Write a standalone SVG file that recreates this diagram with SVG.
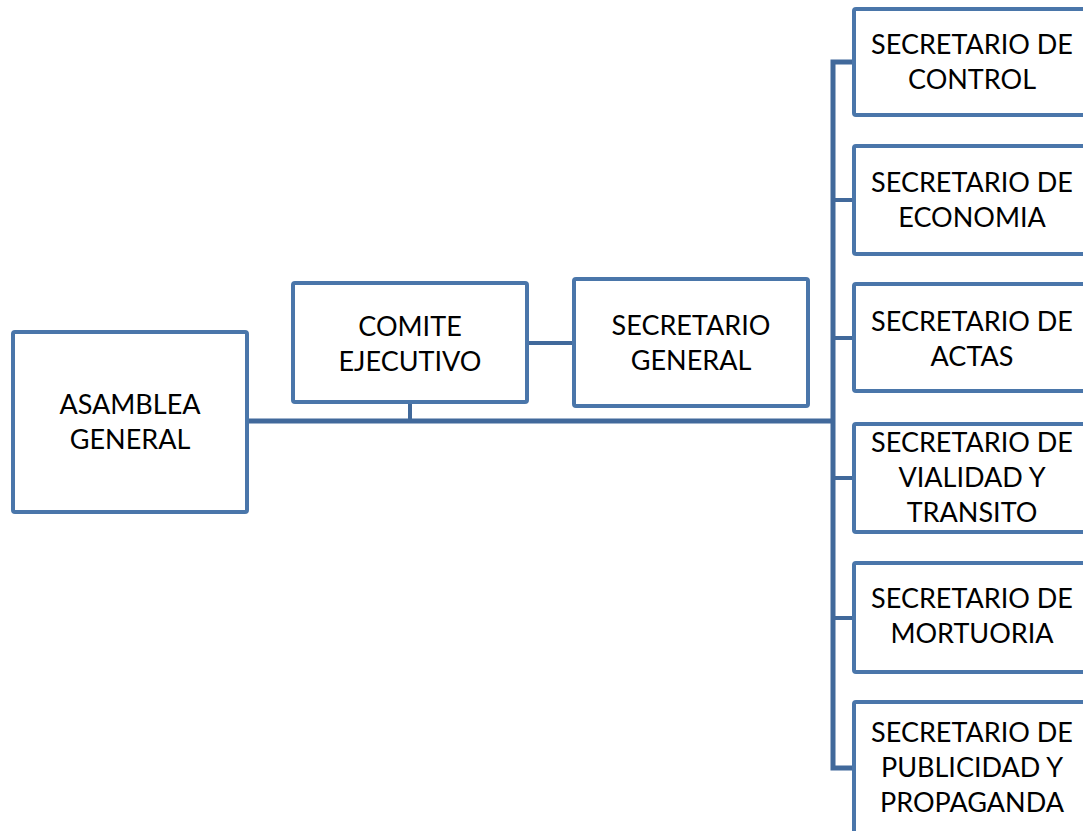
<svg xmlns="http://www.w3.org/2000/svg" width="1083" height="831" viewBox="0 0 1083 831">
<style>
.box{fill:#ffffff;stroke:#4a76aa;stroke-width:4;}
.lbl{font-family:Lato,"Liberation Sans",sans-serif;font-size:27px;fill:#000000;text-anchor:middle;}
.con{stroke:#41699b;fill:none;stroke-linecap:butt;}
</style>
<rect width="1083" height="831" fill="#ffffff"/>
<g id="connectors">
<line class="con" x1="247" y1="421" x2="833" y2="421" stroke-width="5"/>
<line class="con" x1="410" y1="403" x2="410" y2="421" stroke-width="4"/>
<line class="con" x1="526" y1="343" x2="574" y2="343" stroke-width="4"/>
<path class="con" d="M854 62 H833 V768 H854" stroke-width="5" stroke-linejoin="miter"/>
<line class="con" x1="833" y1="200" x2="854" y2="200" stroke-width="4"/>
<line class="con" x1="833" y1="338" x2="854" y2="338" stroke-width="4"/>
<line class="con" x1="833" y1="478" x2="854" y2="478" stroke-width="4"/>
<line class="con" x1="833" y1="618" x2="854" y2="618" stroke-width="4"/>
</g>
<g id="asamblea">
<rect class="box" x="13" y="332" width="234" height="180" rx="2"/>
<text class="lbl" x="130" y="414">ASAMBLEA</text>
<text class="lbl" x="130" y="449">GENERAL</text>
</g>
<g id="comite">
<rect class="box" x="293" y="283" width="234" height="119" rx="2"/>
<text class="lbl" x="410" y="336">COMITE</text>
<text class="lbl" x="410" y="371">EJECUTIVO</text>
</g>
<g id="secretario-general">
<rect class="box" x="574" y="279" width="234" height="127" rx="2"/>
<text class="lbl" x="691" y="335">SECRETARIO</text>
<text class="lbl" x="691" y="370">GENERAL</text>
</g>
<g id="control">
<rect class="box" x="854" y="9" width="240" height="106" rx="2"/>
<text class="lbl" x="972" y="54">SECRETARIO DE</text>
<text class="lbl" x="972" y="89">CONTROL</text>
</g>
<g id="economia">
<rect class="box" x="854" y="146" width="240" height="108" rx="2"/>
<text class="lbl" x="972" y="192">SECRETARIO DE</text>
<text class="lbl" x="972" y="227">ECONOMIA</text>
</g>
<g id="actas">
<rect class="box" x="854" y="284" width="240" height="107" rx="2"/>
<text class="lbl" x="972" y="331">SECRETARIO DE</text>
<text class="lbl" x="972" y="366">ACTAS</text>
</g>
<g id="vialidad">
<rect class="box" x="854" y="424" width="240" height="108" rx="2"/>
<text class="lbl" x="972" y="452">SECRETARIO DE</text>
<text class="lbl" x="972" y="487">VIALIDAD Y</text>
<text class="lbl" x="972" y="522">TRANSITO</text>
</g>
<g id="mortuoria">
<rect class="box" x="854" y="563" width="240" height="109" rx="2"/>
<text class="lbl" x="972" y="608">SECRETARIO DE</text>
<text class="lbl" x="972" y="643">MORTUORIA</text>
</g>
<g id="publicidad">
<rect class="box" x="854" y="702" width="240" height="160" rx="2"/>
<text class="lbl" x="972" y="742">SECRETARIO DE</text>
<text class="lbl" x="972" y="777">PUBLICIDAD Y</text>
<text class="lbl" x="972" y="812">PROPAGANDA</text>
</g>
</svg>
